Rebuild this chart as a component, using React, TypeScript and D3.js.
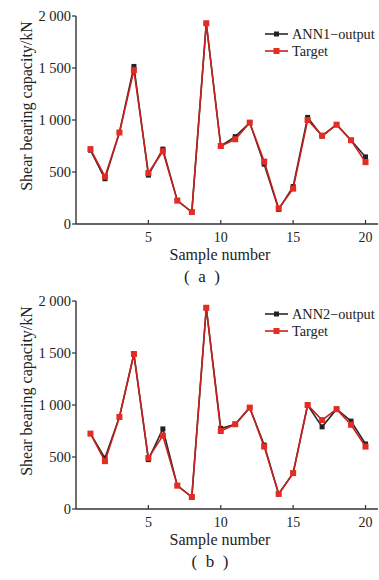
import React from 'react';
import * as d3 from 'd3';

const samples = d3.range(1, 21);
const ann1Output = [710, 435, 880, 1515, 470, 720, 225, 115, 1930, 750, 840, 975, 575, 140, 360, 1025, 845, 955, 805, 645];
const target1 = [720, 455, 880, 1480, 490, 700, 225, 115, 1930, 750, 815, 975, 600, 150, 340, 1000, 850, 955, 805, 595];
const ann2Output = [725, 490, 885, 1490, 475, 770, 225, 115, 1935, 775, 815, 975, 615, 145, 345, 1000, 790, 960, 845, 625];
const target2 = [725, 460, 885, 1490, 490, 705, 225, 115, 1935, 750, 815, 975, 600, 145, 345, 1000, 855, 960, 810, 600];
const yTicks = [0, 500, 1000, 1500, 2000];
const xTicks = [5, 10, 15, 20];

const FONT = '"Liberation Serif", "Times New Roman", serif';
const RED = '#e42b24';
const RED_LINE = '#c8201c';
const BLACK = '#222';

const fmt = (v: number) => (v >= 1000 ? `${Math.floor(v / 1000)} ${String(v % 1000).padStart(3, '0')}` : String(v));

interface PanelProps {
  y0: number; // pixel of value 0
  y1: number; // pixel of value 2000
  annName: string;
  ann: number[];
  target: number[];
  caption: string;
  captionX: number;
  legendY: number;
}

function Panel({ y0, y1, annName, ann, target, caption, captionX, legendY }: PanelProps) {
  const x = d3.scaleLinear().domain([0, 21]).range([76, 380]);
  const y = d3.scaleLinear().domain([0, 2000]).range([y0, y1]);
  const line = d3.line<number>()
    .x((_, i) => x(samples[i]))
    .y(d => y(d));

  const series = [
    { name: annName, values: ann, stroke: '#2a2a2a', fill: BLACK, size: 5 },
    { name: 'Target', values: target, stroke: RED_LINE, fill: RED, size: 6 },
  ];

  return (
    <g>
      {/* axes */}
      <line x1={76} x2={76} y1={y1} y2={y0} stroke="#333" strokeWidth={1.4} />
      <line x1={76} x2={378} y1={y0} y2={y0} stroke="#333" strokeWidth={1.4} />
      {yTicks.map(t => (
        <g key={t}>
          <line x1={72} x2={76} y1={y(t)} y2={y(t)} stroke="#333" strokeWidth={1.2} />
          <text x={71} y={y(t) + 5} textAnchor="end" fontSize={14.5} fontFamily={FONT} fill="#222">{fmt(t)}</text>
        </g>
      ))}
      {xTicks.map(t => (
        <g key={t}>
          <line x1={x(t)} x2={x(t)} y1={y0} y2={y0 - 4} stroke="#333" strokeWidth={1.2} />
          <text x={x(t)} y={y0 + 18} textAnchor="middle" fontSize={14} fontFamily={FONT} fill="#222">{t}</text>
        </g>
      ))}
      <text
        transform={`translate(32,${(y0 + y1) / 2 - 14}) rotate(-90)`}
        textAnchor="middle" fontSize={16} fontFamily={FONT} fill="#222"
      >Shear bearing capacity/kN</text>
      <text x={220} y={y0 + 36} textAnchor="middle" fontSize={16} fontFamily={FONT} fill="#222">Sample number</text>
      <text x={captionX} y={y0 + 58} textAnchor="middle" fontSize={17} fontFamily={FONT} fill="#222" style={{ whiteSpace: 'pre' }}>{caption}</text>

      {/* series */}
      {series.map(s => (
        <g key={s.name}>
          <path d={line(s.values) ?? ''} fill="none" stroke={s.stroke} strokeWidth={1.6} />
          {s.values.map((v, i) => (
            <rect key={i} x={x(samples[i]) - s.size / 2} y={y(v) - s.size / 2} width={s.size} height={s.size} fill={s.fill} />
          ))}
        </g>
      ))}

      {/* legend */}
      {series.map((s, i) => (
        <g key={s.name} transform={`translate(265,${legendY + i * 17})`}>
          <line x1={0} x2={23} y1={0} y2={0} stroke={s.stroke} strokeWidth={1.6} />
          <rect x={11.5 - s.size / 2} y={-s.size / 2} width={s.size} height={s.size} fill={s.fill} />
          <text x={27} y={5} fontSize={14.3} fontFamily={FONT} fill="#222">{s.name}</text>
        </g>
      ))}
    </g>
  );
}

export default function App() {
  return (
    <svg width={379} height={580} style={{ position: 'absolute', left: 0, top: 0, background: '#fff' }}>
      <rect width={379} height={580} fill="#fff" />
      <Panel y0={224} y1={16} annName="ANN1−output" ann={ann1Output} target={target1} caption="(  a  )" captionX={202} legendY={34} />
      <Panel y0={509} y1={301} annName="ANN2−output" ann={ann2Output} target={target2} caption="(  b  )" captionX={210} legendY={314} />
    </svg>
  );
}
